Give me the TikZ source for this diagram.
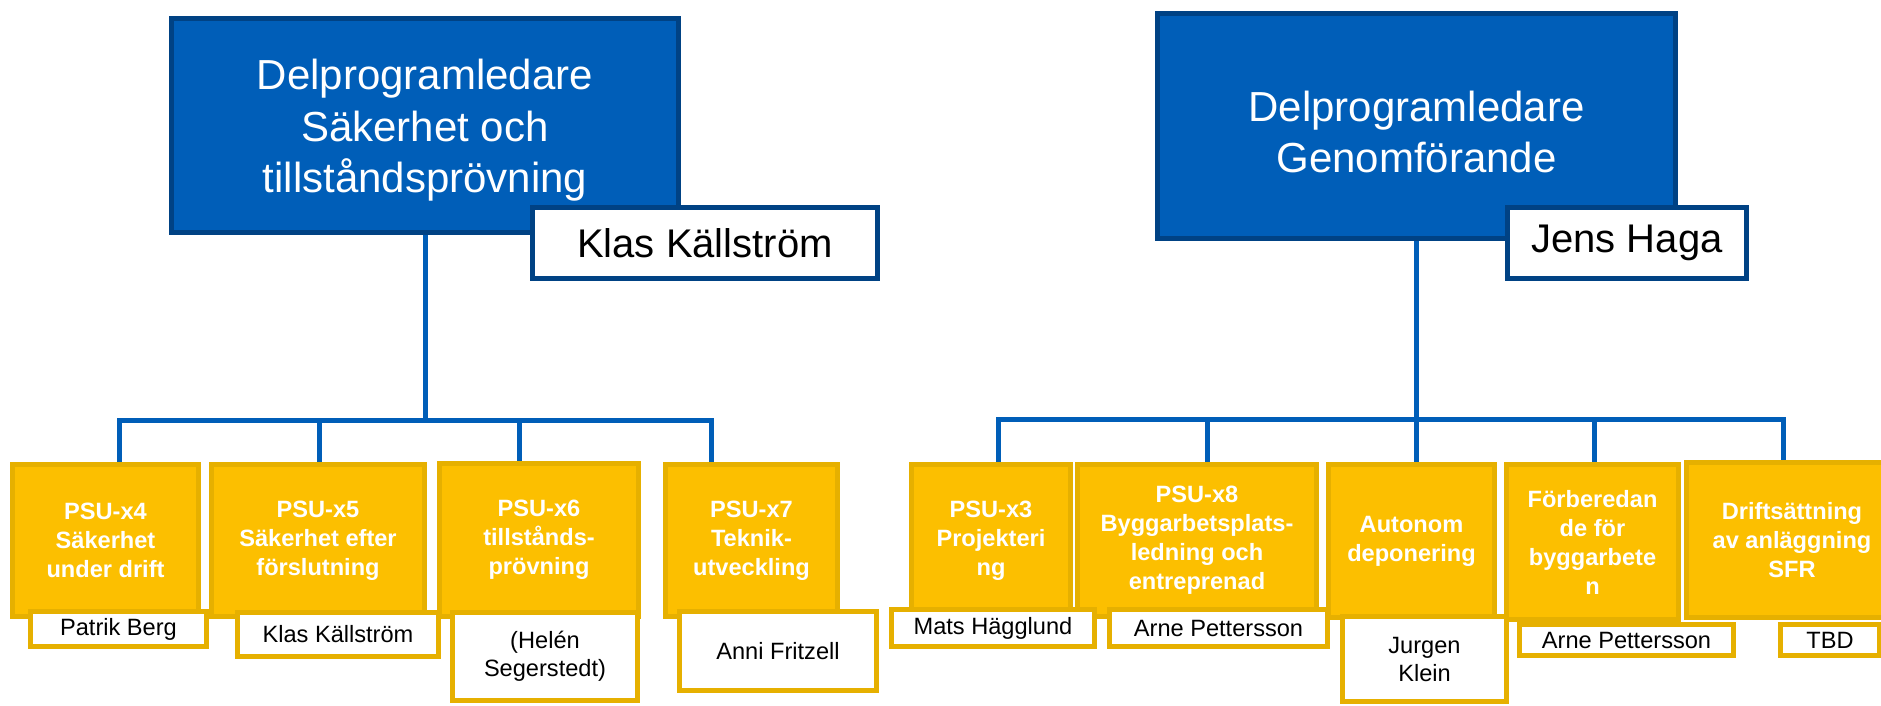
\documentclass[tikz,border=0pt]{standalone}
\usepackage{fontspec}
\setmainfont{Liberation Sans}
\usepackage{tikz}

\definecolor{skbblue}{RGB}{0,94,184}
\definecolor{skbnavy}{RGB}{0,66,132}
\definecolor{psuyellow}{RGB}{252,191,0}
\definecolor{psuedge}{RGB}{230,176,0}

\tikzset{
  lead/.style={draw=skbnavy, fill=skbblue, line width=5pt, text=white, align=center,
    inner sep=0pt, font=\fontsize{42}{51.5}\selectfont},
  leadname/.style={draw=skbnavy, fill=white, line width=5pt, inner sep=0pt,
    font=\fontsize{40}{48}\selectfont},
  psu/.style={draw=psuedge, fill=psuyellow, line width=5pt, text=white, align=center,
    inner sep=0pt, font=\bfseries\fontsize{23.6}{29}\selectfont},
  person/.style={draw=psuedge, fill=white, line width=5pt, align=center,
    inner sep=0pt, font=\fontsize{23.6}{28}\selectfont},
  conn/.style={draw=skbblue, line width=5pt}
}

\begin{document}
\begin{tikzpicture}[x=1pt,y=-1pt]
\useasboundingbox (0,0) rectangle (1881,705);
% program leaders
\node[lead, minimum width=507pt, minimum height=214pt] (sak) at (425,125.5)
  {\rule{0pt}{40.7pt}Delprogramledare\\Säkerhet och\\tillståndsprövning};
\node[leadname, minimum width=345pt, minimum height=71pt] (klasT) at (705,243) {Klas Källström};
\node[lead, minimum width=518pt, minimum height=225pt] (gen) at (1416.5,126)
  {\rule{0pt}{42.7pt}Delprogramledare\\Genomförande};
\node[leadname, minimum width=239pt, minimum height=71pt] (jens) at (1627,243) {Jens Haga};
% left branch
\node[psu, minimum width=186pt, minimum height=152pt] (psu4) at (105.5,540.5) {PSU-x4\\Säkerhet\\under drift};
\node[psu, minimum width=213pt, minimum height=152pt] (psu5) at (318,540.5) {PSU-x5\\Säkerhet efter\\förslutning};
\node[psu, minimum width=199pt, minimum height=153pt] (psu6) at (539,540) {PSU-x6\\tillstånds-\\prövning};
\node[psu, minimum width=172pt, minimum height=152pt] (psu7) at (751.5,540.5) {PSU-x7\\Teknik-\\utveckling};
% right branch
\node[psu, minimum width=159pt, minimum height=152pt] (psu3) at (991,540.5) {PSU-x3\\Projekteri\\ng};
\node[psu, minimum width=239pt, minimum height=152pt] (psu8) at (1197,540.5) {PSU-x8\\Byggarbetsplats-\\ledning och\\entreprenad};
\node[psu, minimum width=166pt, minimum height=153pt] (auto) at (1411.5,541) {Autonom\\deponering};
\node[psu, minimum width=172pt, minimum height=155pt] (forb) at (1592.5,542) {Förberedan\\de för\\byggarbete\\n};
\node[psu, minimum width=211pt, minimum height=155pt] (drift) at (1792,540) {Driftsättning\\av anläggning\\SFR};
% names
\node[person, minimum width=176pt, minimum height=35pt] (patrik) at (118.5,629) {Patrik Berg};
\node[person, minimum width=201pt, minimum height=44pt] (klas) at (338,634.5) {Klas Källström};
\node[person, minimum width=185pt, minimum height=88pt] (helen) at (545,656.5) {(Helén\\Segerstedt)};
\node[person, minimum width=197pt, minimum height=79pt] (anni) at (778,651) {Anni Fritzell};
\node[person, minimum width=203pt, minimum height=37pt] (mats) at (993,628) {Mats Hägglund};
\node[person, minimum width=218pt, minimum height=37pt] (arneA) at (1218.5,628) {Arne Pettersson};
\node[person, minimum width=164pt, minimum height=85pt] (jurgen) at (1424.5,659) {Jurgen\\Klein};
\node[person, minimum width=214pt, minimum height=31pt] (arneB) at (1626.5,640) {Arne Pettersson};
\node[person, minimum width=99pt, minimum height=31pt] (tbd) at (1830,640) {TBD};
% connectors
\coordinate (hubL) at (sak.south |- 0,420);
\coordinate (hubR) at (gen.south |- 0,419);
\coordinate (t4) at (119,0 |- psu4.north);
\coordinate (t5) at (319,0 |- psu5.north);
\coordinate (t6) at (519,0 |- psu6.north);
\coordinate (t7) at (711,0 |- psu7.north);
\coordinate (t3) at (998,0 |- psu3.north);
\coordinate (t8) at (1207,0 |- psu8.north);
\coordinate (ta) at (1416.5,0 |- auto.north);
\coordinate (tf) at (1594,0 |- forb.north);
\coordinate (td) at (1783,0 |- drift.north);
\draw[conn] (sak.south) -- (hubL);
\draw[conn] (gen.south) -- (hubR);
\foreach \t in {t4,t5,t6,t7}
  \draw[conn] (hubL) -| (\t);
\foreach \t in {t3,t8,ta,tf,td}
  \draw[conn] (hubR) -| (\t);
\end{tikzpicture}
\end{document}
